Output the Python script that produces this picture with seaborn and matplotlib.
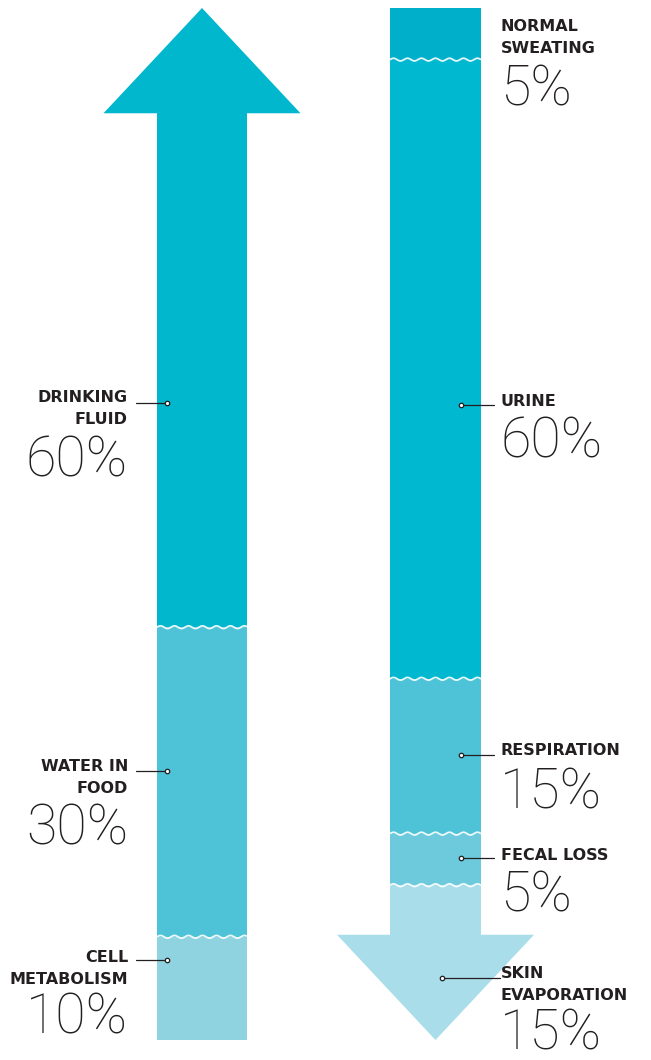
import numpy as np
import matplotlib
matplotlib.use("Agg")
import matplotlib.pyplot as plt
from matplotlib.patches import Polygon
import seaborn as sns

# ---------------- data ----------------
in_labels = ["CELL\nMETABOLISM", "WATER IN\nFOOD", "DRINKING\nFLUID"]      # bottom -> top
in_values = [10, 30, 60]
in_colors = ["#8FD3E1", "#4EC3D7", "#00B7CE"]

out_labels = ["NORMAL\nSWEATING", "URINE", "RESPIRATION", "FECAL LOSS", "SKIN\nEVAPORATION"]  # top -> bottom
out_values = [5, 60, 15, 5, 15]
out_colors = ["#00AFCA", "#00B8CF", "#4EC3D7", "#6DCADC", "#A9DDE9"]

# ---------------- layout ----------------
W, H = 651, 1060
TOP_PX, BOT_PX = 8, 1040
SCALE = (BOT_PX - TOP_PX) / 100.0


def Y(p):
    """pixel row -> percent axis"""
    return (BOT_PX - p) / SCALE


sns.set_theme(style="white")
plt.rcParams["font.family"] = ["DejaVu Sans"]
TXT = "#231F20"

fig = plt.figure(figsize=(W / 100, H / 100), dpi=100)
ax = fig.add_axes([0, 0, 1, 1])
ax.set_xlim(0, W)
ax.set_ylim(Y(H), Y(0))
ax.axis("off")

HEAD = 10.2          # arrow head length in percent units
HALF_HEAD = 98.5     # head half width in px

# left arrow (up)
lx0, lx1 = 157, 247
lc = (lx0 + lx1) / 2
left_poly = Polygon([(lx0, 0), (lx1, 0), (lx1, 100 - HEAD), (lc + HALF_HEAD, 100 - HEAD),
                     (lc, 100), (lc - HALF_HEAD, 100 - HEAD), (lx0, 100 - HEAD)],
                    closed=True, facecolor="none", edgecolor="none")
ax.add_patch(left_poly)

# right arrow (down)
rx0, rx1 = 390, 481
rc = (rx0 + rx1) / 2
right_poly = Polygon([(rx0, 100), (rx1, 100), (rx1, HEAD), (rc + HALF_HEAD, HEAD),
                      (rc, 0), (rc - HALF_HEAD, HEAD), (rx0, HEAD)],
                     closed=True, facecolor="none", edgecolor="none")
ax.add_patch(right_poly)

# stacked segments (bottom->top for inflow)
bottoms_in = np.concatenate([[0], np.cumsum(in_values)[:-1]])
bars = ax.bar([lc] * len(in_values), in_values, bottom=bottoms_in, width=2 * HALF_HEAD + 4,
              color=in_colors, linewidth=0)
for b in bars:
    b.set_clip_path(left_poly)

tops_out = 100 - np.concatenate([[0], np.cumsum(out_values)[:-1]])
bars = ax.bar([rc] * len(out_values), out_values, bottom=tops_out - np.array(out_values),
              width=2 * HALF_HEAD + 4, color=out_colors, linewidth=0)
for b in bars:
    b.set_clip_path(right_poly)


# wavy separators
def wave(x0, x1, y):
    xs = np.linspace(x0, x1, 200)
    ys = y + 0.13 * np.sin((xs - x0) / 14.0 * 2 * np.pi)
    ax.plot(xs, ys, color="white", lw=1.3, alpha=0.9, solid_capstyle="butt")


for bnd in np.cumsum(in_values)[:-1]:
    wave(lx0, lx1, bnd)
for bnd in 100 - np.cumsum(out_values)[:-1]:
    wave(rx0, rx1, bnd)

LBL_FS = 11.5
PCT_FS = 40


def label(x, y_px, text, ha):
    ax.text(x, Y(y_px), text, ha=ha, va="top", fontsize=LBL_FS, fontweight="heavy",
            color=TXT, linespacing=1.55)


def pct(x, y_px, text, ha):
    ax.text(x, Y(y_px), text, ha=ha, va="center", fontsize=PCT_FS, fontweight="light",
            family=["Roboto", "DejaVu Sans"], color=TXT)


def leader(x0, x1, y_px, dot_x):
    ax.plot([x0, x1], [Y(y_px), Y(y_px)], color=TXT, lw=0.9)
    ax.plot([dot_x], [Y(y_px)], marker="o", ms=3.2, mfc="white", mec=TXT, mew=0.9)


# left labels: (label top px, leader px, percent centre px)
left_layout = [(950, 960, 1018), (759, 771, 829), (390, 403, 461)]
for lab, val, (ty, ly, py) in zip(in_labels, in_values, left_layout):
    label(128, ty, lab, "right")
    leader(136, 167, ly, 167)
    pct(128, py, f"{val}%", "right")

# right labels
right_layout = [(19, None, 90, None), (394, 405, 442, 461), (743, 755, 793, 461),
                (848, 858, 896, 461), (966, 978, 1034, 442)]
for lab, val, (ty, ly, py, dx) in zip(out_labels, out_values, right_layout):
    label(501, ty, lab, "left")
    if ly is not None:
        leader(dx, 494 if dx == 461 else 500, ly, dx)
    pct(500, py, f"{val}%", "left")

fig.savefig("out.png", dpi=100, facecolor="white")
